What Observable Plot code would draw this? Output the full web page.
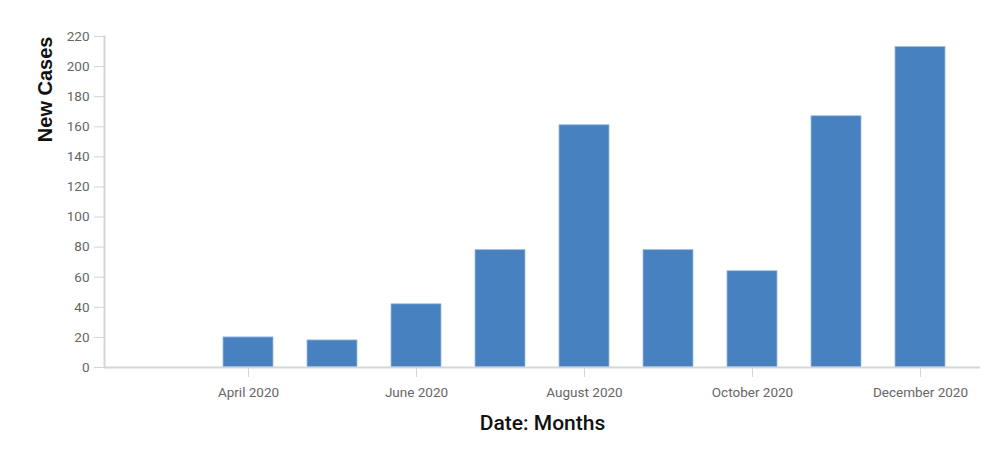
<!DOCTYPE html>
<html>
<head>
<meta charset="utf-8">
<script src="https://cdn.jsdelivr.net/npm/d3@7"></script>
<script src="https://cdn.jsdelivr.net/npm/@observablehq/plot@0.6"></script>
<style>
  html, body { margin: 0; padding: 0; background: #fff; }
  #chart svg { display: block; }
</style>
</head>
<body>
<div id="chart"></div>
<script>
const months = ["March 2020", "April 2020", "May 2020", "June 2020", "July 2020", "August 2020",
                "September 2020", "October 2020", "November 2020", "December 2020"];
const newCases = [0, 20, 18, 42, 78, 161, 78, 64, 167, 213];
const labelledMonths = ["April 2020", "June 2020", "August 2020", "October 2020", "December 2020"];
const yTicks = [0, 20, 40, 60, 80, 100, 120, 140, 160, 180, 200, 220];

const data = months.map((m, i) => ({month: m, cases: newCases[i]}));

const axisColor = "#d3d5db";
const tickText = "#666";
const font = "'Liberation Sans Narrow', 'Roboto', sans-serif";

const chart = Plot.plot({
  width: 1000,
  height: 455,
  marginLeft: 104,
  marginRight: 20,
  marginTop: 36,
  marginBottom: 88,
  style: {fontFamily: font, fontSize: "13px", background: "#fff"},
  x: {type: "band", domain: months, range: [121.1, 963.6], paddingInner: 0.4, paddingOuter: 0.2, axis: null},
  y: {domain: [0, 220], axis: null},
  marks: [
    Plot.barY(data.filter(d => d.cases > 0), {x: "month", y: "cases", fill: "#4781c0", stroke: "#9dbbe0", strokeWidth: 0.8}),
    Plot.ruleY([0], {stroke: axisColor, strokeWidth: 2}),
    Plot.frame({anchor: "left", stroke: axisColor, strokeWidth: 2}),
    Plot.axisY({ticks: yTicks, tickSize: 10, tickPadding: 5, stroke: axisColor, color: tickText, label: null, fontSize: 13.5}),
    Plot.axisX({ticks: labelledMonths, tickSize: 10, tickPadding: 10, stroke: axisColor, color: tickText, label: null, fontSize: 13.5}),
    Plot.text(["Date: Months"], {frameAnchor: "bottom", dy: 62, fontSize: 21, fontWeight: 500, fill: "#111", fontFamily: "Roboto, sans-serif"}),
    Plot.text(["New Cases"], {frameAnchor: "top-left", dx: -67, rotate: -90, textAnchor: "end", fontSize: 20, fontWeight: "bold", fill: "#111", fontFamily: "'Liberation Sans', Arial, sans-serif"})
  ]
});
document.getElementById("chart").append(chart);
</script>
</body>
</html>
